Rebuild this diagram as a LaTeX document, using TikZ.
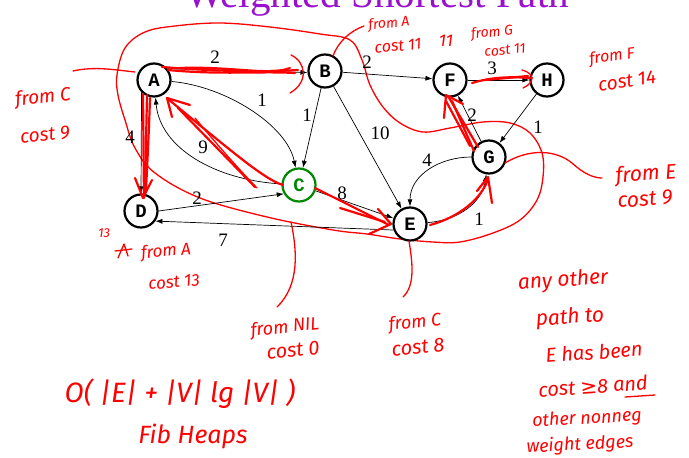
\documentclass[tikz,border=0pt]{standalone}
\usepackage{fontspec}
\setmainfont{Liberation Serif}
\newfontfamily\vxfont{Liberation Mono}
\newfontfamily\handfont{Fira Sans}
\newfontfamily\symfont{DejaVu Sans}
\usetikzlibrary{arrows.meta}
\definecolor{titlepurple}{RGB}{153,17,204}
\definecolor{ink}{RGB}{255,0,0}
\definecolor{cgreen}{RGB}{0,135,0}
\tikzset{
  vtx/.style={circle, draw, line width=2.2pt, minimum size=33pt, inner sep=0pt,
    fill=white, font=\vxfont\bfseries\fontsize{19}{19}\selectfont},
  edge/.style={draw, line width=0.7pt, -{Latex[length=7pt,width=5pt]}},
  lbl/.style={font=\fontsize{19}{19}\selectfont, inner sep=0pt},
  hand/.style={text=ink, inner sep=0pt, font=\handfont\itshape},
  mk/.style={draw=ink, line width=2.2pt, line cap=round, line join=round},
  pen/.style={draw=ink, line width=1.3pt, line cap=round, line join=round},
}
\newcommand{\hs}[1]{\fontsize{#1}{#1}\selectfont}
\begin{document}
\begin{tikzpicture}[x=1pt, y=-1pt]
\useasboundingbox (0,0) rectangle (689,458);
\clip (0,0) rectangle (689,458);
\fill[white] (0,0) rectangle (689,458);

% heading, cut off by the top edge
\node[anchor=base, text=titlepurple, font=\hs{41}, inner sep=0pt] (title) at (377,7) {Weighted Shortest Path};

% enclosing red loop (drawn first, under the graph)
\draw[pen] plot[smooth cycle, tension=0.6] coordinates {
  (117,75) (125,48) (145,32) (175,26) (220,23) (270,27) (320,34) (350,40)
  (362,60) (370,85) (383,107) (400,123) (423,132) (450,128) (483,122)
  (510,123) (530,133) (542,153) (543,177) (537,200) (520,220) (493,233)
  (460,242) (433,242) (400,239) (367,234) (333,230) (267,217) (200,198)
  (155,173) (135,148) (125,120) (118,95)};

% vertices
\node[vtx] (A) at (154,80) {A};
\node[vtx] (B) at (325,71) {B};
\node[vtx] (F) at (450,80) {F};
\node[vtx] (H) at (547,80) {H};
\node[vtx] (G) at (489,157) {G};
\node[vtx, draw=cgreen, text=cgreen] (C) at (299,185) {C};
\node[vtx] (D) at (141,211) {D};
\node[vtx] (E) at (410,224) {E};

% weighted directed edges
\draw[edge] (A.40) -- (B.185);
\draw[edge] (A) .. controls (225,86) and (287,125) .. (C);
\draw[edge] (B) -- (C);
\draw[edge] (B) -- (F);
\draw[edge] (B) -- (E);
\draw[edge] (F) -- (H);
\draw[edge] (H) -- (G);
\draw[edge] (G) -- (F);
\draw[edge] (G) .. controls (440,157) and (410,175) .. (E);
\draw[edge] (E) .. controls (460,220) and (482,202) .. (G);
\draw[edge] (C) .. controls (215,180) and (160,148) .. (A);
\draw[edge] (A.-135) -- (D.north);
\draw[edge] (D.east) -- (C.210);
\draw[edge] (C) -- (E);
\draw[edge] (E.200) -- (D.-35);

% weights
\node[lbl] (wAB) at (215,57) {2};
\node[lbl] (wAC) at (262,100) {1};
\node[lbl] (wBC) at (307,115) {1};
\node[lbl] (wBF) at (367,62) {2};
\node[lbl] (wBE) at (380,133) {10};
\node[lbl] (wFH) at (492,68) {3};
\node[lbl] (wGF) at (472,115) {2};
\node[lbl] (wHG) at (538,127) {1};
\node[lbl] (wGE) at (427,160) {4};
\node[lbl] (wEG) at (479,219) {1};
\node[lbl] (wCA) at (203,147) {9};
\node[lbl] (wAD) at (130,137) {4};
\node[lbl] (wDC) at (197,198) {2};
\node[lbl] (wCE) at (342,193) {8};
\node[lbl] (wED) at (223,240) {7};

% shortest-path tree, marked over the edges
% A -> B
\draw[mk] (162,67) .. controls (200,70) and (250,73) .. (298,70);
\draw[mk] (168,70) .. controls (220,75) and (260,71) .. (295,73);
\draw[mk] (180,68) .. controls (230,66) and (270,76) .. (290,68);
\draw[pen] (291,55) .. controls (306,62) and (309,82) .. (290,93);
% A -> D
\draw[mk] (143,94) -- (144,198);
\draw[mk] (147,95) -- (145,192);
\draw[mk] (150,98) .. controls (149,130) and (147,170) .. (146,190);
\draw[mk] (135,178) -- (143,198) -- (152,180);
% C -> A
\draw[mk] (283,185) .. controls (265,180) and (230,150) .. (168,99);
\draw[mk] (255,187) -- (178,108);
\draw[pen] (257,188) .. controls (230,160) and (205,130) .. (195,118);
\draw[mk] (172,117) -- (167,98) -- (190,105);
% C -> E
\draw[mk] (315,188) -- (389,225);
\draw[mk] (340,208) -- (385,222);
\draw[mk] (378,209) -- (391,224) -- (369,234);
% E -> G
\draw[mk] (430,225) .. controls (460,217) and (482,198) .. (488,179);
\draw[mk] (477,191) -- (488,177) -- (492,203);
% G -> F
\draw[mk] (478,147) -- (448,96);
\draw[mk] (474,151) -- (452,101);
\draw[mk] (470,146) -- (446,101);
\draw[mk] (444,118) -- (446,95) -- (463,104);
% F -> H
\draw[mk] (472,83) .. controls (495,76) and (515,77) .. (532,78);
\draw[mk] (485,80) -- (528,76);
\draw[pen] (522,70) .. controls (534,73) and (536,82) .. (523,88);

% pointers from the vertices to their notes
\draw[pen] (73,71) .. controls (95,66) and (115,70) .. (135,72);
\draw[pen] (333,56) .. controls (338,42) and (350,31) .. (364,26);
\draw[pen] (291,222) .. controls (297,250) and (300,285) .. (277,307);
\draw[pen] (409,241) .. controls (412,260) and (416,285) .. (403,297);
\draw[pen] (505,163) .. controls (530,148) and (556,150) .. (572,163)
               .. controls (584,174) and (594,178) .. (602,178);
% crossed-out mark before a note
\draw[pen] (118,258) -- (124,244) -- (128,256);
\draw[pen] (115,251) -- (132,249);

% notes beside the vertices
\node[hand, font=\handfont\itshape\hs{19}, rotate=6] (nC1) at (43,98) {from C};
\node[hand, font=\handfont\itshape\hs{19}, rotate=6] (nC2) at (45,135) {cost 9};
\node[hand, font=\handfont\itshape\hs{14}, rotate=6] (nB1) at (389,24) {from A};
\node[hand, font=\handfont\itshape\hs{16}, rotate=6] (nB2) at (398,46) {cost 11};
\node[hand, font=\handfont\itshape\hs{17}] (nF0) at (446,41) {11};
\node[hand, font=\handfont\itshape\hs{14}, rotate=6] (nF1) at (492,33) {from G};
\node[hand, font=\handfont\itshape\hs{14}, rotate=6] (nF2) at (505,50) {cost 11};
\node[hand, font=\handfont\itshape\hs{16}, rotate=8] (nH1) at (612,57) {from F};
\node[hand, font=\handfont\itshape\hs{19}, rotate=8] (nH2) at (627,81) {cost 14};
\node[hand, font=\handfont\itshape\hs{21}, rotate=4] (nG1) at (646,175) {from E};
\node[hand, font=\handfont\itshape\hs{21}, rotate=4] (nG2) at (645,199) {cost 9};
\node[hand, font=\handfont\itshape\hs{13}] (nD0) at (104,233) {13};
\node[hand, font=\handfont\itshape\hs{17}, rotate=5] (nD1) at (166,252) {from A};
\node[hand, font=\handfont\itshape\hs{17}, rotate=5] (nD2) at (174,282) {cost 13};
\node[hand, font=\handfont\itshape\hs{18}, rotate=6] (nA1) at (285,328) {from NIL};
\node[hand, font=\handfont\itshape\hs{20}, rotate=6] (nA2) at (293,350) {cost 0};
\node[hand, font=\handfont\itshape\hs{18}, rotate=6] (nE1) at (415,323) {from C};
\node[hand, font=\handfont\itshape\hs{20}, rotate=6] (nE2) at (418,347) {cost 8};

% remark on the bound
\node[hand, font=\handfont\itshape\hs{21}, rotate=4] (r1) at (563,281) {any other};
\node[hand, font=\handfont\itshape\hs{21}, rotate=4] (r2) at (570,318) {path to};
\node[hand, font=\handfont\itshape\hs{20}, rotate=4] (r3) at (594,352) {E has been};
\node[hand, font=\handfont\itshape\hs{20}, rotate=4] (r4) at (593,386) {cost {\symfont ≥}8 and};
\draw[pen] (625,397) -- (655,395);
\node[hand, font=\handfont\itshape\hs{18}, rotate=3] (r5) at (587,419) {other nonneg};
\node[hand, font=\handfont\itshape\hs{18}, rotate=3] (r6) at (580,445) {weight edges};

% running time
\node[hand, font=\handfont\itshape\hs{28}] (rt) at (180,394) {O( |E| + |V| lg |V| )};
\node[hand, font=\handfont\itshape\hs{25}] (fh) at (193,436) {Fib Heaps};
\end{tikzpicture}
\end{document}
